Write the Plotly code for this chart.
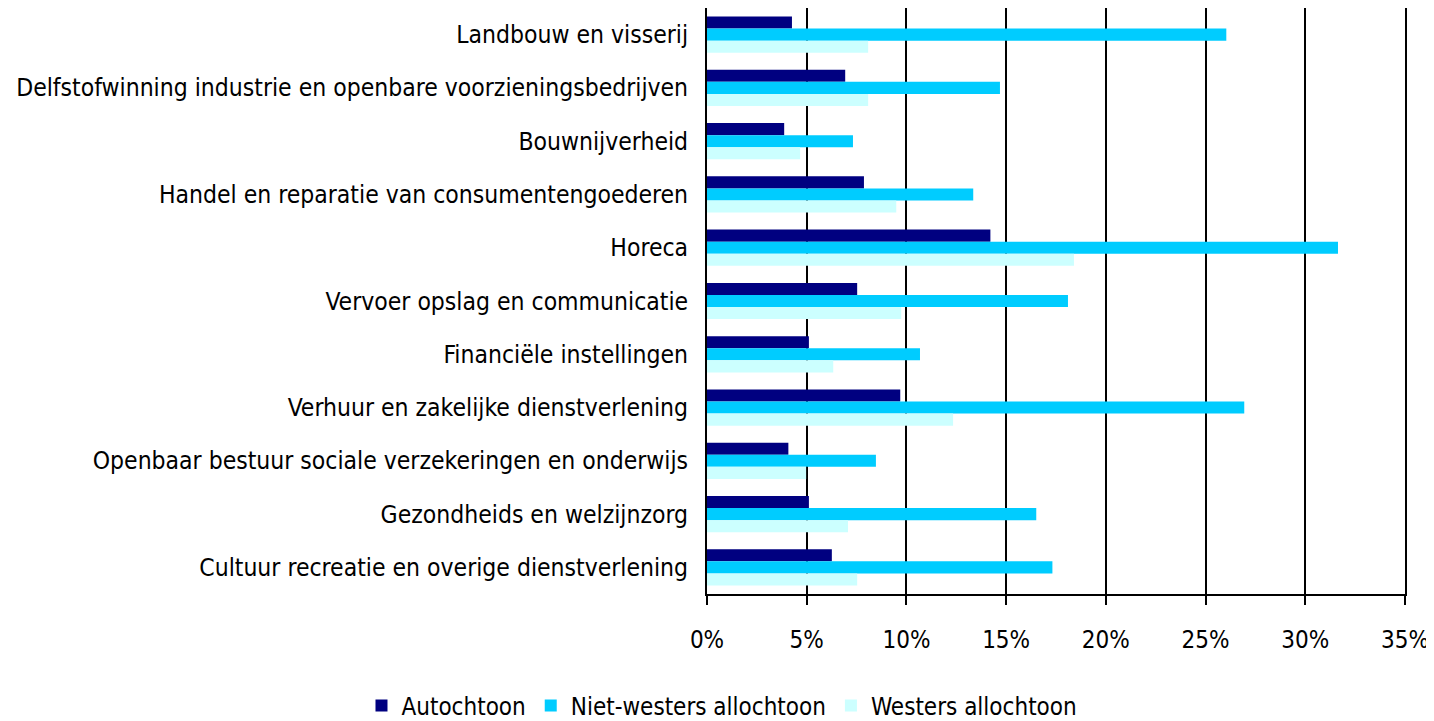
import plotly.graph_objects as go

categories = [
    "Landbouw en visserij",
    "Delfstofwinning industrie en openbare voorzieningsbedrijven",
    "Bouwnijverheid",
    "Handel en reparatie van consumentengoederen",
    "Horeca",
    "Vervoer opslag en communicatie",
    "Financiële instellingen",
    "Verhuur en zakelijke dienstverlening",
    "Openbaar bestuur sociale verzekeringen en onderwijs",
    "Gezondheids en welzijnzorg",
    "Cultuur recreatie en overige dienstverlening",
]
autochtoon = [4.26, 6.93, 3.87, 7.87, 14.21, 7.53, 5.11, 9.69, 4.08, 5.11, 6.26]
niet_westers = [26.04, 14.69, 7.32, 13.35, 31.64, 18.10, 10.68, 26.94, 8.47, 16.51, 17.32]
westers = [8.08, 8.08, 4.67, 9.49, 18.40, 9.74, 6.33, 12.34, 4.97, 7.07, 7.53]

series_names = ["Autochtoon", "Niet-westers allochtoon", "Westers allochtoon"]
colors = ["#000080", "#00CCFF", "#CCFFFF"]
tick_vals = [0, 5, 10, 15, 20, 25, 30, 35]
tick_text = ["0%", "5%", "10%", "15%", "20%", "25%", "30%", "35%"]

FONT = "Liberation Sans Narrow, DejaVu Sans Condensed, Arial Narrow, sans-serif"

fig = go.Figure()
for name, vals, col in zip(series_names, [autochtoon, niet_westers, westers], colors):
    fig.add_trace(go.Bar(
        y=categories, x=vals, name=name, orientation="h",
        marker=dict(color=col, line=dict(width=0)),
    ))

fig.update_layout(
    width=1426, height=713,
    barmode="group", bargap=0.32, bargroupgap=0,
    paper_bgcolor="white", plot_bgcolor="white",
    margin=dict(l=699, r=29, t=0, b=127, autoexpand=False),
    font=dict(family=FONT, size=24, color="black"),
    legend=dict(orientation="h", x=-0.495, xanchor="left", xref="paper",
                y=-0.191, yanchor="middle", yref="paper",
                font=dict(size=24), itemwidth=30, traceorder="normal",
                tracegroupgap=0),
    showlegend=True,
)
fig.update_xaxes(
    range=[0, 35], tickvals=tick_vals, ticktext=tick_text,
    showgrid=True, gridcolor="black", gridwidth=2,
    showline=True, linecolor="black", linewidth=2, mirror=True,
    ticks="outside", ticklen=9, tickwidth=2, tickcolor="black",
    ticklabelstandoff=14, zeroline=False, fixedrange=True,
    tickfont=dict(size=24),
)
fig.update_yaxes(
    autorange="reversed", showgrid=False,
    showline=True, linecolor="black", linewidth=2, mirror=True,
    ticks="", ticklabelstandoff=12, fixedrange=True,
    tickfont=dict(size=24.5),
)

fig.write_html("out.html")
